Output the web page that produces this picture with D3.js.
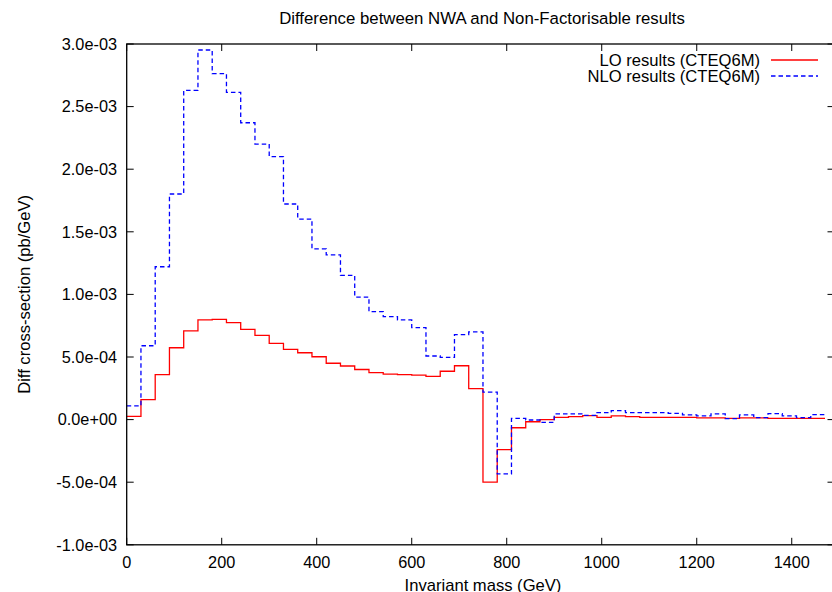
<!DOCTYPE html>
<html>
    <head>
        <meta charset="utf-8">
        <title>Difference between NWA and Non-Factorisable results</title>
        <script src="https://d3js.org/d3.v7.min.js"></script>
        <style>
            body {
                margin: 0;
                background-color: white;
            }
            svg {
                display: block;
                font-family: "Liberation Sans", Arial, Helvetica, sans-serif;
            }
        </style>
    </head>
    <body>
        <svg width="832" height="592"></svg>

        <script>
            // lower edges of the mass bins (GeV), last entry closes the last bin
            const massEdges = [0, 30, 60, 90, 120, 150, 180, 210, 240, 270, 300, 330, 360, 390, 420, 450,
                480, 510, 540, 570, 600, 630, 660, 690, 720, 750, 780, 810, 840, 870, 900, 930, 960, 990,
                1020, 1050, 1080, 1110, 1140, 1170, 1200, 1230, 1260, 1290, 1320, 1350, 1380, 1410, 1440, 1470];

            // LO results (CTEQ6M), pb/GeV
            const loValues = [0.025e-3, 0.16e-3, 0.359e-3, 0.574e-3, 0.708e-3, 0.796e-3, 0.80e-3, 0.774e-3,
                0.721e-3, 0.673e-3, 0.609e-3, 0.561e-3, 0.534e-3, 0.502e-3, 0.45e-3, 0.428e-3, 0.40e-3,
                0.375e-3, 0.364e-3, 0.359e-3, 0.356e-3, 0.346e-3, 0.386e-3, 0.43e-3, 0.247e-3, -0.50e-3,
                -0.24e-3, -0.065e-3, -0.017e-3, 0.0, 0.018e-3, 0.023e-3, 0.031e-3, 0.018e-3, 0.029e-3,
                0.023e-3, 0.018e-3, 0.018e-3, 0.018e-3, 0.018e-3, 0.013e-3, 0.013e-3, 0.010e-3, 0.013e-3,
                0.013e-3, 0.010e-3, 0.010e-3, 0.010e-3, 0.010e-3];

            // NLO results (CTEQ6M), pb/GeV
            const nloValues = [0.109e-3, 0.59e-3, 1.221e-3, 1.802e-3, 2.63e-3, 2.952e-3, 2.763e-3, 2.614e-3,
                2.371e-3, 2.201e-3, 2.10e-3, 1.722e-3, 1.602e-3, 1.363e-3, 1.315e-3, 1.152e-3, 0.979e-3,
                0.862e-3, 0.822e-3, 0.796e-3, 0.734e-3, 0.508e-3, 0.497e-3, 0.678e-3, 0.70e-3, 0.22e-3,
                -0.434e-3, 0.01e-3, -0.003e-3, -0.022e-3, 0.045e-3, 0.045e-3, 0.034e-3, 0.055e-3, 0.071e-3,
                0.055e-3, 0.055e-3, 0.055e-3, 0.05e-3, 0.037e-3, 0.029e-3, 0.045e-3, 0.007e-3, 0.037e-3,
                0.015e-3, 0.047e-3, 0.029e-3, 0.015e-3, 0.04e-3];

            const xTicks = [0, 200, 400, 600, 800, 1000, 1200, 1400];
            const yTicks = [-1.0e-3, -0.5e-3, 0, 0.5e-3, 1.0e-3, 1.5e-3, 2.0e-3, 2.5e-3, 3.0e-3];

            const seriesNames = ["LO results (CTEQ6M)", "NLO results (CTEQ6M)"];

            let svg = d3.select("svg");
            const margin = {left: 126.7, top: 44, right: 834.5, bottom: 544.8};

            let x = d3.scaleLinear().domain([0, 1490]).range([margin.left, margin.right]);
            let y = d3.scaleLinear().domain([-1.0e-3, 3.0e-3]).range([margin.bottom, margin.top]);

            // gnuplot style exponent: 2.5e-03, 0.0e+00
            function sciFmt(v) {
                let s = d3.format(".1e")(v);
                let parts = s.split("e");
                let exp = +parts[1];
                let sign = exp < 0 ? "-" : "+";
                let mant = parts[0].replace("−", "-");
                return mant + "e" + sign + String(Math.abs(exp)).padStart(2, "0");
            }

            // title
            svg.append("text")
                .attr("x", 482)
                .attr("y", 24)
                .attr("text-anchor", "middle")
                .style("font-size", "16.8px")
                .text("Difference between NWA and Non-Factorisable results");

            // ticks (inward, mirrored like gnuplot)
            let tickLen = 7;
            let g = svg.append("g").attr("stroke", "black").attr("stroke-width", 1);
            xTicks.forEach(t => {
                g.append("line").attr("x1", x(t)).attr("x2", x(t))
                    .attr("y1", margin.bottom).attr("y2", margin.bottom - tickLen);
                g.append("line").attr("x1", x(t)).attr("x2", x(t))
                    .attr("y1", margin.top).attr("y2", margin.top + tickLen);
            });
            yTicks.forEach(t => {
                g.append("line").attr("x1", margin.left).attr("x2", margin.left + tickLen)
                    .attr("y1", y(t)).attr("y2", y(t));
                g.append("line").attr("x1", margin.right).attr("x2", margin.right - tickLen)
                    .attr("y1", y(t)).attr("y2", y(t));
            });

            svg.selectAll(".xlab")
                .data(xTicks)
                .enter()
                .append("text")
                .attr("class", "xlab")
                .attr("x", d => x(d))
                .attr("y", 567.5)
                .attr("text-anchor", "middle")
                .style("font-size", "16.3px")
                .text(d => d);

            svg.selectAll(".ylab")
                .data(yTicks)
                .enter()
                .append("text")
                .attr("class", "ylab")
                .attr("x", 117)
                .attr("y", d => y(d) + 5.8)
                .attr("text-anchor", "end")
                .style("font-size", "16.3px")
                .text(d => sciFmt(d));

            // axis titles
            svg.append("text")
                .attr("x", 483)
                .attr("y", 591)
                .attr("text-anchor", "middle")
                .style("font-size", "16.6px")
                .text("Invariant mass (GeV)");

            svg.append("text")
                .attr("transform", "translate(30," + ((margin.top + margin.bottom) / 2) + ") rotate(-90)")
                .attr("text-anchor", "middle")
                .style("font-size", "16.6px")
                .text("Diff cross-section (pb/GeV)");

            // step lines
            function stepPoints(vals) {
                let pts = vals.map((v, i) => [massEdges[i], v]);
                pts.push([massEdges[vals.length], vals[vals.length - 1]]);
                return pts;
            }

            let line = d3.line()
                .x(d => x(d[0]))
                .y(d => y(d[1]))
                .curve(d3.curveStepAfter);

            let plot = svg.append("g");
            plot.append("path")
                .attr("d", line(stepPoints(loValues)))
                .attr("fill", "none")
                .attr("stroke", "#ff0000")
                .attr("stroke-width", 1.3);

            plot.append("path")
                .attr("d", line(stepPoints(nloValues)))
                .attr("fill", "none")
                .attr("stroke", "#0000ff")
                .attr("stroke-width", 1.3)
                .attr("stroke-dasharray", "4.5,3");

            // border
            svg.append("rect")
                .attr("x", margin.left)
                .attr("y", margin.top)
                .attr("width", margin.right - margin.left)
                .attr("height", margin.bottom - margin.top)
                .attr("fill", "none")
                .attr("stroke", "black")
                .attr("stroke-width", 1.3);

            // legend
            let legend = svg.append("g");
            let legColors = ["#ff0000", "#0000ff"];
            let legDash = [null, "4.5,3"];
            seriesNames.forEach((name, i) => {
                let ly = 60 + i * 16;
                legend.append("text")
                    .attr("x", 760)
                    .attr("y", ly + 6)
                    .attr("text-anchor", "end")
                    .style("font-size", "16.6px")
                    .text(name);
                legend.append("line")
                    .attr("x1", 771).attr("x2", 818)
                    .attr("y1", ly).attr("y2", ly)
                    .attr("stroke", legColors[i])
                    .attr("stroke-width", 1.3)
                    .attr("stroke-dasharray", legDash[i]);
            });
        </script>
    </body>
</html>
